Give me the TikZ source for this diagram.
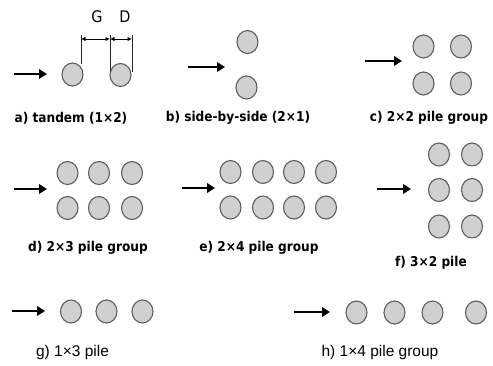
\documentclass[tikz,border=0pt]{standalone}
\usepackage{fontspec}
\usetikzlibrary{arrows.meta,shapes.geometric}
\newfontfamily\capfont{DejaVu Sans Condensed}
\newfontfamily\arfont{Liberation Sans}
\definecolor{pilefill}{HTML}{D0D0D0}
\definecolor{pileline}{HTML}{5E5E5E}
\tikzset{
  pile/.style={ellipse,draw=pileline,fill=pilefill,line width=1.1pt,minimum width=21pt,minimum height=23pt,inner sep=0pt},
  flow/.style={line width=2.3pt,-{Triangle[length=8pt,width=9.5pt]}},
  lbl/.style={font=\capfont\bfseries\fontsize{13.5}{15}\selectfont,inner sep=0pt},
  lblg/.style={font=\arfont\fontsize{15.5}{17}\selectfont,inner sep=0pt},
  dimtxt/.style={font=\capfont\fontsize{16}{18}\selectfont,inner sep=0pt},
  extl/.style={line width=0.9pt,draw=black!85},
  dimarr/.style={line width=0.9pt,{Latex[length=4.5pt,width=4.5pt]}-{Latex[length=4.5pt,width=4.5pt]}}
}
\begin{document}
\begin{tikzpicture}[x=1pt,y=-1pt]
\useasboundingbox (0,0) rectangle (493,366);
% a) tandem
\node[pile] (a1) at (72.5,74.5) {};
\node[pile] (a2) at (120.5,75) {};
\coordinate (aS) at (14,74); \coordinate (aE) at (47,74);
\draw[flow] (aS) -- (aE);
\coordinate (e1t) at (81,35); \coordinate (e1b) at (81,64);
\coordinate (e2t) at (110,35); \coordinate (e2b) at (110,72);
\coordinate (e3t) at (132,35); \coordinate (e3b) at (132,72);
\draw[extl] (e1t) -- (e1b);
\draw[extl] (e2t) -- (e2b);
\draw[extl] (e3t) -- (e3b);
\coordinate (g1) at (81,39); \coordinate (g2) at (110,39); \coordinate (g3) at (132,39);
\draw[dimarr] (g1) -- (g2);
\draw[dimarr] (g2) -- (g3);
\node[dimtxt] (G) at (97,17) {G};
\node[dimtxt] (D) at (125,17) {D};
\node[lbl] (la) at (71,118) {a) tandem (1×2)};
% b) side by side
\node[pile] (b1) at (247.5,42) {};
\node[pile] (b2) at (246.5,87.5) {};
\coordinate (bS) at (188,67); \coordinate (bE) at (225,67);
\draw[flow] (bS) -- (bE);
\node[lbl] (lb) at (238,118) {b) side-by-side (2×1)};
% c) 2x2
\foreach \i/\x in {1/423.5,2/461}{
  \foreach \j/\y in {1/46.5,2/83.5}{
    \node[pile] (c\j\i) at (\x,\y) {};
  }
}
\coordinate (cS) at (365,61); \coordinate (cE) at (402,61);
\draw[flow] (cS) -- (cE);
\node[lbl] (lc) at (429,118) {c) 2×2 pile group};
% d) 2x3
\foreach \i/\x in {1/67.5,2/99,3/132}{
  \foreach \j/\y in {1/173,2/208}{
    \node[pile] (d\j\i) at (\x,\y) {};
  }
}
\coordinate (dS) at (14,189); \coordinate (dE) at (47,189);
\draw[flow] (dS) -- (dE);
\node[lbl] (ld) at (88,248) {d) 2×3 pile group};
% e) 2x4
\foreach \i/\x in {1/230.5,2/263,3/294,4/326}{
  \foreach \j/\y in {1/172,2/207.5}{
    \node[pile] (e\j\i) at (\x,\y) {};
  }
}
\coordinate (eS) at (182,188); \coordinate (eE) at (215,188);
\draw[flow] (eS) -- (eE);
\node[lbl] (le) at (259,248) {e) 2×4 pile group};
% f) 3x2
\foreach \i/\x in {1/439,2/472}{
  \foreach \j/\y in {1/154.5,2/190,3/226.5}{
    \node[pile] (f\j\i) at (\x,\y) {};
  }
}
\coordinate (fS) at (377,189); \coordinate (fE) at (411,189);
\draw[flow] (fS) -- (fE);
\node[lbl] (lf) at (431,263) {f) 3×2 pile};
% g) 1x3
\foreach \i/\x in {1/71,2/106.5,3/142.5}{
  \node[pile] (g\i) at (\x,311.5) {};
}
\coordinate (gS) at (12,311); \coordinate (gE) at (45,311);
\draw[flow] (gS) -- (gE);
\node[lblg] (lg) at (72.5,352) {g) 1×3 pile};
% h) 1x4
\foreach \i/\x in {1/356.5,2/394.5,3/432.5,4/476}{
  \node[pile] (h\i) at (\x,312.5) {};
}
\coordinate (hS) at (294,312); \coordinate (hE) at (330,312);
\draw[flow] (hS) -- (hE);
\node[lblg] (lh) at (380,352) {h) 1×4 pile group};
\end{tikzpicture}
\end{document}
